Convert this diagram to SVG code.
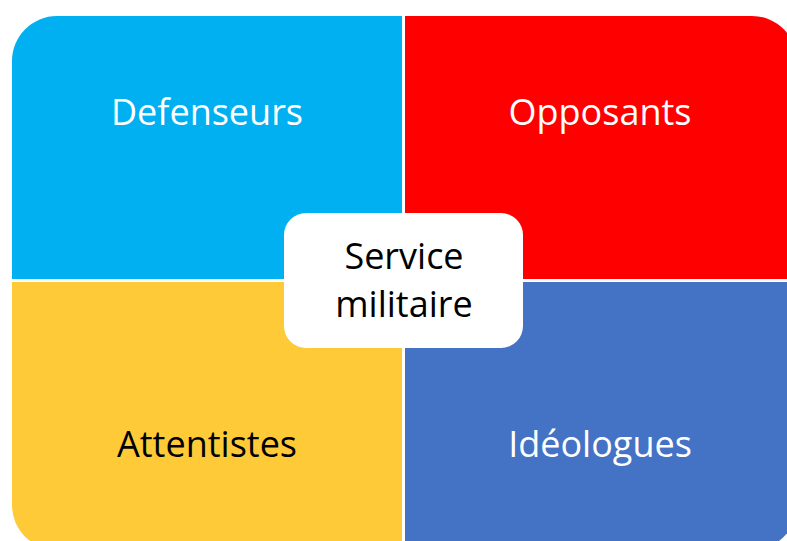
<svg xmlns="http://www.w3.org/2000/svg" width="787" height="541" viewBox="0 0 787 541">
<style>
.lbl{font-family:"Open Sans","Liberation Sans",sans-serif;font-size:36px;text-anchor:middle}
.w{fill:#ffffff}.k{fill:#000000}
</style>
<rect width="787" height="541" fill="#ffffff"/>
<g id="defenseurs">
<path d="M12,61 A45,45 0 0 1 57,16 L402,16 L402,279 L12,279 Z" fill="#00B0F0"/>
<text class="lbl w" x="207" y="125">Defenseurs</text>
</g>
<g id="opposants">
<path d="M405,16 L752,16 A45,45 0 0 1 797,61 L797,279 L405,279 Z" fill="#FF0000"/>
<text class="lbl w" x="600" y="125">Opposants</text>
</g>
<g id="attentistes">
<path d="M12,282 L402,282 L402,550 L57,550 A45,45 0 0 1 12,505 Z" fill="#FFCA38"/>
<text class="lbl k" x="207" y="457">Attentistes</text>
</g>
<g id="ideologues">
<path d="M405,282 L797,282 L797,505 A45,45 0 0 1 752,550 L405,550 Z" fill="#4472C4"/>
<text class="lbl w" x="600" y="457">Idéologues</text>
</g>
<g id="connectors"></g>
<g id="service-militaire">
<rect x="284" y="213" width="239" height="135" rx="22" ry="22" fill="#ffffff"/>
<text class="lbl k" x="404" y="269">Service</text>
<text class="lbl k" x="404" y="317">militaire</text>
</g>
</svg>
